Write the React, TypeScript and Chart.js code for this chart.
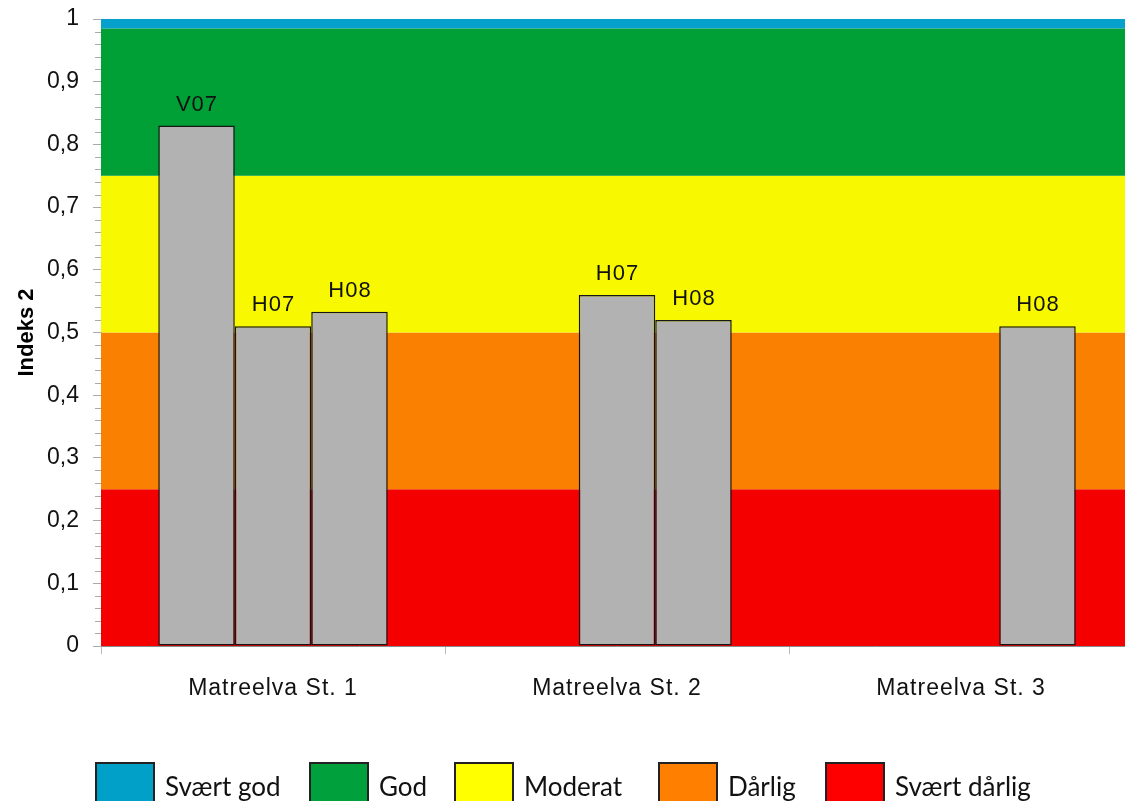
import React, { useEffect, useRef } from "react";
import { Chart, registerables } from "chart.js";

Chart.register(...registerables);

// ---- data ----
const categories = ["Matreelva St. 1", "Matreelva St. 2", "Matreelva St. 3"];
const seriesNames = ["V07", "H07", "H08"];
const v07Values = [0.83, null, null];
const h07Values = [0.51, 0.56, null];
const h08Values = [0.533, 0.52, 0.51];
const yTickLabels = ["0", "0,1", "0,2", "0,3", "0,4", "0,5", "0,6", "0,7", "0,8", "0,9", "1"];
// class bands (lower limit -> upper limit), from bottom
const bandNames = ["Svært dårlig", "Dårlig", "Moderat", "God", "Svært god"];
const bandLimits = [0, 0.25, 0.5, 0.75, 0.985, 1];
const legendNames = ["Svært god", "God", "Moderat", "Dårlig", "Svært dårlig"];

// ---- styles / layout ----
const bandColors: Record<string, string> = {
  "Svært dårlig": "#F50000",
  "Dårlig": "#F98000",
  "Moderat": "#F8F800",
  "God": "#00A036",
  "Svært god": "#06A0CC",
};
const legendColors: Record<string, string> = {
  "Svært god": "#00A0C8",
  "God": "#00A03C",
  "Moderat": "#FFFF00",
  "Dårlig": "#FF8000",
  "Svært dårlig": "#FF0000",
};
const legendBoxX = [96, 310, 455, 659, 826];

const bandPlugin = {
  id: "bands",
  beforeDatasetsDraw(chart: any) {
    const { ctx, chartArea, scales } = chart;
    const y = scales.y;
    ctx.save();
    for (let i = 0; i < bandNames.length; i++) {
      const yTop = y.getPixelForValue(bandLimits[i + 1]);
      const yBot = y.getPixelForValue(bandLimits[i]);
      ctx.fillStyle = bandColors[bandNames[i]];
      ctx.fillRect(chartArea.left, yTop, chartArea.right - chartArea.left, yBot - yTop);
    }
    ctx.restore();
  },
};

const labelPlugin = {
  id: "barLabels",
  afterDatasetsDraw(chart: any) {
    const { ctx } = chart;
    ctx.save();
    ctx.font = "22px 'Liberation Sans', Arial, sans-serif";
    (ctx as any).letterSpacing = "1px";
    ctx.fillStyle = "#111";
    ctx.textAlign = "center";
    ctx.textBaseline = "alphabetic";
    chart.data.datasets.forEach((ds: any, di: number) => {
      const meta = chart.getDatasetMeta(di);
      meta.data.forEach((el: any, i: number) => {
        if (ds.data[i] == null) return;
        ctx.fillText(ds.label, el.x + 0.5, el.y - 15);
      });
    });
    ctx.restore();
  },
};

const spacedXLabels = {
  id: "spacedXLabels",
  afterLayout(chart: any) {
    const xs = chart.scales.x;
    if (!xs || xs.__spaced) return;
    const orig = xs.drawLabels;
    xs.drawLabels = function (area: any) {
      const ctx = this.ctx;
      ctx.save();
      ctx.letterSpacing = "1px";
      orig.call(this, area);
      ctx.restore();
    };
    xs.__spaced = true;
  },
};

const minorTickPlugin = {
  id: "minorTicks",
  afterDraw(chart: any) {
    const { ctx, chartArea, scales } = chart;
    const y = scales.y;
    ctx.save();
    ctx.strokeStyle = "#aaaaaa";
    ctx.lineWidth = 1;
    for (let k = 1; k < 50; k++) {
      if (k % 5 === 0) continue;
      const py = Math.round(y.getPixelForValue(k * 0.02)) + 0.5;
      ctx.beginPath();
      ctx.moveTo(chartArea.left - 6, py);
      ctx.lineTo(chartArea.left, py);
      ctx.stroke();
    }
    ctx.restore();
  },
};

const legendPlugin = {
  id: "customLegend",
  afterDraw(chart: any) {
    const { ctx } = chart;
    ctx.save();
    ctx.font = "26px Lato, 'Open Sans', sans-serif";
    ctx.textBaseline = "alphabetic";
    ctx.textAlign = "left";
    const boxTop = 763;
    const boxW = 58;
    const boxH = 46;
    legendNames.forEach((name, i) => {
      const x = legendBoxX[i];
      ctx.fillStyle = legendColors[name];
      ctx.fillRect(x, boxTop, boxW, boxH);
      ctx.strokeStyle = "#222";
      ctx.lineWidth = 2;
      ctx.strokeRect(x, boxTop, boxW, boxH);
      ctx.fillStyle = "#111";
      ctx.fillText(name, x + 69, 796);
    });
    ctx.restore();
  },
};

export default function App() {
  const ref = useRef<HTMLCanvasElement | null>(null);

  useEffect(() => {
    if (!ref.current) return;
    const barStyle = {
      backgroundColor: "#B2B2B2",
      borderColor: "#151515",
      borderWidth: 1.5,
      borderSkipped: false as const,
      categoryPercentage: 0.667,
      barPercentage: 1,
    };
    const chart = new Chart(ref.current, {
      type: "bar",
      data: {
        labels: categories,
        datasets: [
          { label: seriesNames[0], data: v07Values, ...barStyle },
          { label: seriesNames[1], data: h07Values, ...barStyle },
          { label: seriesNames[2], data: h08Values, ...barStyle },
        ],
      },
      options: {
        responsive: false,
        animation: false,
        devicePixelRatio: 1,
        layout: { padding: { top: 19, right: 1, bottom: 95, left: 0 } },
        plugins: {
          legend: { display: false },
          tooltip: { enabled: false },
          title: { display: false },
        },
        scales: {
          x: {
            afterFit: (scale: any) => {
              scale.height = 60;
              scale.paddingLeft = 0;
              scale.paddingRight = 0;
            },
            grid: {
              display: true,
              offset: true,
              drawOnChartArea: false,
              drawTicks: true,
              tickLength: 8,
              color: "#bbbbbb",
            },
            border: { display: true, color: "#8a8a8a", width: 1 },
            ticks: {
              color: "#111",
              padding: 21,
              font: { family: "'Liberation Sans', Arial, sans-serif", size: 23 },
            },
          },
          y: {
            min: 0,
            max: 1,
            afterFit: (scale: any) => {
              scale.width = 101;
              scale.paddingTop = 0;
              scale.paddingBottom = 0;
            },
            ticks: {
              stepSize: 0.1,
              color: "#111",
              padding: 14,
              font: { family: "'Liberation Sans', Arial, sans-serif", size: 23 },
              callback: (_v: any, i: number) => yTickLabels[i],
            },
            grid: {
              display: true,
              drawOnChartArea: false,
              drawTicks: true,
              tickLength: 8,
              color: "#aaaaaa",
            },
            border: { display: true, color: "#999999", width: 1 },
            title: {
              display: true,
              text: "Indeks 2",
              color: "#000",
              font: { family: "'Liberation Sans', Arial, sans-serif", size: 22, weight: "bold" },
              padding: { top: 14, bottom: 6 },
            },
          },
        },
      },
      plugins: [spacedXLabels, bandPlugin, labelPlugin, minorTickPlugin, legendPlugin],
    });
    return () => chart.destroy();
  }, []);

  return (
    <div style={{ position: "fixed", left: 0, top: 0, width: 1134, height: 801, background: "#fff" }}>
      <canvas ref={ref} width={1134} height={801} />
    </div>
  );
}
